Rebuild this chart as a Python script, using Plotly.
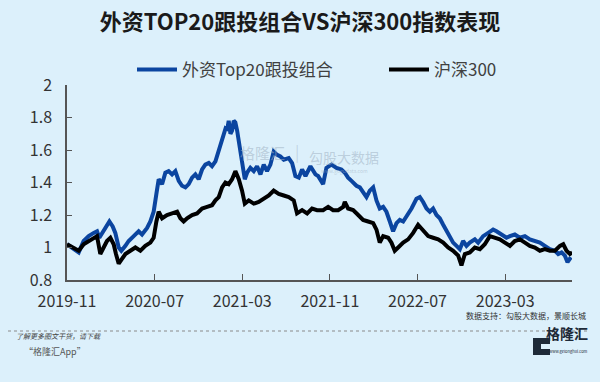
import plotly.graph_objects as go

# ---------------- data (months elapsed since 2019-11) ----------------
tick_months = [0, 8, 16, 24, 32, 40]
tick_labels = ["2019-11", "2020-07", "2021-03", "2021-11", "2022-07", "2023-03"]
y_ticks = [0.8, 1.0, 1.2, 1.4, 1.6, 1.8, 2.0]
y_tick_labels = ["0.8", "1", "1.2", "1.4", "1.6", "1.8", "2"]

top20_months = [
    0.00, 0.46, 1.07, 1.52, 1.98, 2.44, 2.74, 2.95, 3.20, 3.65,
    3.87, 4.17, 4.41, 4.72, 4.96, 5.33, 5.63, 6.09, 6.54, 6.85,
    7.31, 7.61, 7.91, 8.16, 8.37, 8.68, 8.98, 9.28, 9.59, 9.89,
    10.20, 10.50, 10.81, 11.11, 11.42, 11.72, 12.02, 12.33, 12.63, 12.94,
    13.24, 13.55, 13.85, 14.16, 14.46, 14.61, 14.76, 14.92, 15.07, 15.22,
    15.37, 15.53, 15.74, 15.98, 16.23, 16.44, 16.74, 17.05, 17.35, 17.66,
    17.96, 18.26, 18.57, 18.87, 19.18, 19.48, 19.79, 20.24, 20.55, 20.85,
    21.16, 21.46, 21.77, 22.22, 22.68,
    22.92, 23.38, 23.68, 24.14, 24.60, 25.05, 25.36, 25.66, 25.97, 26.42,
    26.73, 27.03, 27.34, 27.64, 27.95, 28.25, 28.55, 28.86, 29.16, 29.47,
    29.77, 30.08, 30.38, 30.69, 30.99, 31.45, 31.90, 32.21, 32.51, 32.82,
    33.12, 33.42, 33.73, 34.03, 34.34, 34.64, 34.95, 35.25, 35.56, 35.86,
    36.16, 36.47, 36.77, 37.23, 37.53, 37.99, 38.45, 38.90, 39.21, 39.67,
    40.12, 40.43, 40.88, 41.34, 41.80, 42.25, 42.71, 43.17, 43.62, 44.08,
    44.54, 44.84, 45.15, 45.45, 45.69, 46.00,
]
top20_values = [
    1.02, 1.00, 0.97, 1.04, 1.07, 1.09, 1.10, 1.06, 1.09, 1.14,
    1.16, 1.13, 1.09, 1.00, 0.98, 1.01, 1.04, 1.07, 1.10, 1.08,
    1.12, 1.16, 1.22, 1.33, 1.42, 1.39, 1.46, 1.47, 1.45, 1.47,
    1.41, 1.38, 1.37, 1.39, 1.43, 1.45, 1.42, 1.48, 1.51, 1.52,
    1.50, 1.53, 1.60, 1.68, 1.73, 1.72, 1.78, 1.70, 1.72, 1.78,
    1.77, 1.72, 1.64, 1.53, 1.42, 1.46, 1.49, 1.47, 1.50, 1.45,
    1.51, 1.47, 1.51, 1.59, 1.57, 1.56, 1.54, 1.55, 1.52, 1.44,
    1.43, 1.48, 1.44, 1.50, 1.45,
    1.44, 1.39, 1.49, 1.51, 1.49, 1.48, 1.46, 1.43, 1.41, 1.38,
    1.37, 1.34, 1.31, 1.35, 1.37, 1.29, 1.24, 1.25, 1.22, 1.16,
    1.10, 1.15, 1.17, 1.16, 1.19, 1.24, 1.30, 1.31, 1.28, 1.24,
    1.22, 1.24, 1.20, 1.18, 1.14, 1.10, 1.07, 1.03, 1.01, 0.99,
    1.04, 1.01, 1.03, 1.05, 1.03, 1.07, 1.09, 1.11, 1.10, 1.08,
    1.06, 1.07, 1.08, 1.06, 1.07, 1.05, 1.04, 1.03, 1.01, 0.99,
    0.98, 0.96, 0.97, 0.95, 0.91, 0.94,
]

csi300_months = [
    0.00, 0.46, 1.07, 1.52, 1.98, 2.44, 2.74, 3.04, 3.35, 3.65,
    3.96, 4.26, 4.47, 4.72, 5.02, 5.33, 5.78, 6.24, 6.70, 7.15,
    7.61, 7.91, 8.16, 8.37, 8.68, 9.13, 9.59, 10.05, 10.35, 10.65,
    10.96, 11.42, 11.87, 12.33, 12.79, 13.24, 13.55, 13.85, 14.16, 14.46,
    14.76, 15.07, 15.37, 15.53, 15.68, 15.98, 16.23, 16.59, 17.05, 17.50,
    17.96, 18.42, 18.87, 19.33, 19.79, 20.24, 20.70, 21.00, 21.46, 21.92,
    22.37, 22.83,
    23.38, 23.84, 24.29, 24.75, 25.21, 25.36, 25.66, 26.12, 26.58, 27.03,
    27.49, 27.95, 28.25, 28.55, 28.86, 29.32, 29.62, 29.92, 30.23, 30.69,
    31.14, 31.60, 32.05, 32.51, 32.97, 33.42, 33.88, 34.34, 34.79, 35.25,
    35.71, 36.01, 36.32, 36.77, 37.23, 37.69, 38.14, 38.60, 39.06, 39.51,
    39.97, 40.43, 40.88, 41.34, 41.80, 42.25, 42.71, 43.17, 43.62, 44.08,
    44.54, 45.00, 45.30, 45.60, 45.91, 46.12,
]
csi300_values = [
    1.02, 1.00, 0.98, 1.02, 1.04, 1.06, 1.07, 0.96, 1.00, 1.04,
    1.06, 1.02, 0.96, 0.90, 0.93, 0.96, 0.98, 1.00, 0.98, 1.01,
    1.03, 1.06, 1.16, 1.22, 1.18, 1.20, 1.21, 1.22, 1.18, 1.16,
    1.18, 1.20, 1.21, 1.24, 1.25, 1.26, 1.29, 1.31, 1.37, 1.40,
    1.39, 1.42, 1.47, 1.45, 1.42, 1.35, 1.27, 1.29, 1.27, 1.28,
    1.30, 1.32, 1.35, 1.33, 1.32, 1.31, 1.29, 1.21, 1.23, 1.21,
    1.24, 1.23,
    1.23, 1.25, 1.23, 1.23, 1.25, 1.28, 1.24, 1.23, 1.20, 1.17,
    1.16, 1.15, 1.11, 1.03, 1.07, 1.06, 1.03, 0.98, 1.00, 1.03,
    1.05, 1.09, 1.14, 1.10, 1.07, 1.06, 1.05, 1.03, 1.00, 0.98,
    0.95, 0.89, 0.96, 0.97, 1.00, 0.99, 1.02, 1.07, 1.06, 1.05,
    1.03, 1.01, 1.04, 1.05, 1.03, 1.01, 1.00, 0.98, 0.99, 0.98,
    0.98, 1.01, 1.02, 0.98, 0.96, 0.97,
]

series_names = ["外资Top20跟投组合", "沪深300"]
title_text = "外资TOP20跟投组合VS沪深300指数表现"

# ---------------- layout helpers ----------------
W, H = 600, 382
L, R, T, B = 67, 28, 85, 102
PW, PH = W - L - R, H - T - B


def px(x):
    return (x - L) / PW


def py(y):
    return (H - B - y) / PH


FONT = "Noto Sans CJK SC"
BG = "#dcf0fb"
AXC = "#555555"

fig = go.Figure()
fig.add_trace(go.Scatter(x=top20_months, y=top20_values, mode="lines",
                         name=series_names[0], legend="legend",
                         line=dict(color="#0b45a0", width=4)))
fig.add_trace(go.Scatter(x=csi300_months, y=csi300_values, mode="lines",
                         name=series_names[1], legend="legend2",
                         line=dict(color="#000000", width=4)))

leg_common = dict(orientation="h", xanchor="left", yanchor="middle", y=py(70),
                  font=dict(family=FONT, size=17, color="#404040"),
                  bgcolor="rgba(0,0,0,0)", itemwidth=40)

fig.update_layout(
    width=W, height=H,
    margin=dict(l=L, r=R, t=T, b=B),
    paper_bgcolor=BG, plot_bgcolor=BG,
    font=dict(family=FONT, color="#333333"),
    title=dict(text=title_text, x=0.5, xanchor="center",
               y=1 - 22 / H, yanchor="middle", yref="container",
               font=dict(family=FONT, size=22, color="#1a1a1a", weight="bold")),
    showlegend=True,
    legend=dict(x=px(132), **leg_common),
    legend2=dict(x=px(384), **leg_common),
    xaxis=dict(range=[0, 46.1], tickvals=tick_months, ticktext=tick_labels,
               ticks="inside", ticklen=6, tickwidth=1.2, tickcolor=AXC,
               showline=True, linecolor=AXC, linewidth=1.5,
               showgrid=False, zeroline=False, ticklabelstandoff=6,
               tickfont=dict(family=FONT, size=16, color="#333333")),
    yaxis=dict(range=[0.8, 2.0], tickvals=y_ticks, ticktext=y_tick_labels,
               ticks="inside", ticklen=5, tickwidth=1.2, tickcolor=AXC,
               showline=True, linecolor=AXC, linewidth=1.5,
               showgrid=False, zeroline=False, ticklabelstandoff=10,
               tickfont=dict(family=FONT, size=16, color="#333333")),
)

ann = []
# watermark
ann.append(dict(text="格隆汇", x=px(262), y=py(152), xref="paper", yref="paper",
                showarrow=False, font=dict(family=FONT, size=15, color="rgba(160,178,196,0.55)")))
ann.append(dict(text="|", x=px(297), y=py(151), xref="paper", yref="paper",
                showarrow=False, font=dict(family=FONT, size=16, color="rgba(160,178,196,0.45)")))
ann.append(dict(text="勾股大数据", x=px(344), y=py(145), xref="paper", yref="paper",
                showarrow=False, font=dict(family=FONT, size=14, color="rgba(160,178,196,0.55)")))
ann.append(dict(text="www.gogudata.com", x=px(344), y=py(171), xref="paper", yref="paper",
                showarrow=False, font=dict(family=FONT, size=5, color="rgba(160,178,196,0.55)")))
# footer
ann.append(dict(text="数据支持：勾股大数据，景顺长城", x=px(588), y=py(323), xref="paper", yref="paper",
                xanchor="right", showarrow=False, font=dict(family=FONT, size=8, color="#333333")))
ann.append(dict(text="<i>了解更多图文干货，请下载</i>", x=px(14), y=py(343), xref="paper", yref="paper",
                xanchor="left", showarrow=False, font=dict(family=FONT, size=7, color="#444444")))
ann.append(dict(text="“格隆汇App”", x=px(22), y=py(360), xref="paper", yref="paper",
                xanchor="left", showarrow=False, font=dict(family=FONT, size=9, color="#555555")))
ann.append(dict(text="<b>格隆汇</b>", x=px(590), y=py(345), xref="paper", yref="paper",
                xanchor="right", showarrow=False, font=dict(family=FONT, size=14, color="#1e2a38")))
ann.append(dict(text="www.gelonghui.com", x=px(590), y=py(356), xref="paper", yref="paper",
                xanchor="right", showarrow=False, font=dict(family=FONT, size=4, color="#1e2a38")))
fig.update_layout(annotations=ann)

shapes = []
shapes.append(dict(type="line", xref="paper", yref="paper", x0=px(8), x1=px(590),
                   y0=py(331), y1=py(331), line=dict(color="#8a8a8a", width=1, dash="dot")))
# logo icon
shapes.append(dict(type="rect", xref="paper", yref="paper", x0=px(533), x1=px(550),
                   y0=py(355), y1=py(338), fillcolor="#1e2a38", line=dict(width=0)))
shapes.append(dict(type="rect", xref="paper", yref="paper", x0=px(541), x1=px(550),
                   y0=py(349), y1=py(344), fillcolor=BG, line=dict(width=0)))
fig.update_layout(shapes=shapes)

fig.write_html("out.html", config={"displayModeBar": False},
               post_script="document.body.style.margin='0';document.body.style.background='%s';" % BG)
